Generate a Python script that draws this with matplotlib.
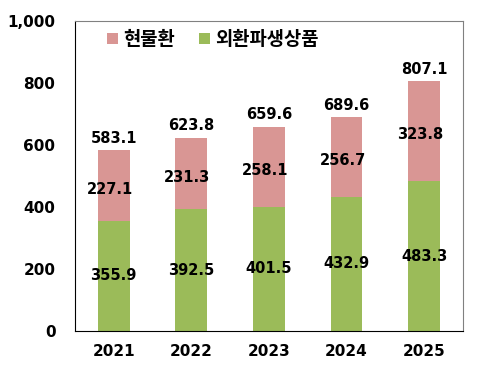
import matplotlib
matplotlib.use('Agg')
from matplotlib import pyplot as plt
import numpy as np

years = ['2021', '2022', '2023', '2024', '2025']
spot = [227.1, 231.3, 258.1, 256.7, 323.8]
deriv = [355.9, 392.5, 401.5, 432.9, 483.3]
totals = [583.1, 623.8, 659.6, 689.6, 807.1]
spot_name = '현물환'
deriv_name = '외환파생상품'

plt.rcParams['font.family'] = ['DejaVu Sans', 'Noto Sans CJK KR']
plt.rcParams['font.weight'] = 'bold'

pink = '#D99694'
green = '#9BBB59'

fig = plt.figure(figsize=(4.93, 3.77), dpi=100)
ax = fig.add_axes([0.152, 0.122, 0.787, 0.822])

x = np.arange(len(years))
w = 0.41
b1 = ax.bar(x, deriv, w, color=green, label=deriv_name)
b2 = ax.bar(x, spot, w, bottom=deriv, color=pink, label=spot_name)

for i in range(len(years)):
    ax.text(x[i], deriv[i] / 2, f'{deriv[i]:.1f}', ha='center', va='center',
            fontsize=10.5, fontweight='bold')
    ax.text(x[i] - 0.05, deriv[i] + spot[i] / 2 - 12, f'{spot[i]:.1f}', ha='center',
            va='center', fontsize=10.5, fontweight='bold')
    ax.text(x[i], totals[i] + 14, f'{totals[i]:.1f}', ha='center', va='bottom',
            fontsize=10.5, fontweight='bold')

ax.set_xlim(-0.5, len(years) - 0.5)
ax.set_ylim(0, 1000)
ax.set_yticks(range(0, 1001, 200))
ax.set_yticklabels([f'{v:,}' for v in range(0, 1001, 200)])
ax.set_xticks(x)
ax.set_xticklabels(years)
ax.tick_params(axis='both', length=0, labelsize=11, pad=14)
ax.tick_params(axis='x', pad=9)
for lab in ax.get_xticklabels() + ax.get_yticklabels():
    lab.set_fontweight('bold')

ax.spines['left'].set_color('black')
ax.spines['bottom'].set_color('black')
ax.spines['top'].set_color('#808080')
ax.spines['right'].set_color('#808080')

leg = ax.legend(handles=[b2, b1], loc='upper left', ncol=2, frameon=False,
                prop={'family': 'Noto Sans CJK KR', 'weight': 'black', 'size': 13.5},
                handlelength=0.55, handleheight=0.55,
                handletextpad=0.3, columnspacing=1.3,
                bbox_to_anchor=(0.04, 1.025))

fig.savefig('out.png', dpi=100)
